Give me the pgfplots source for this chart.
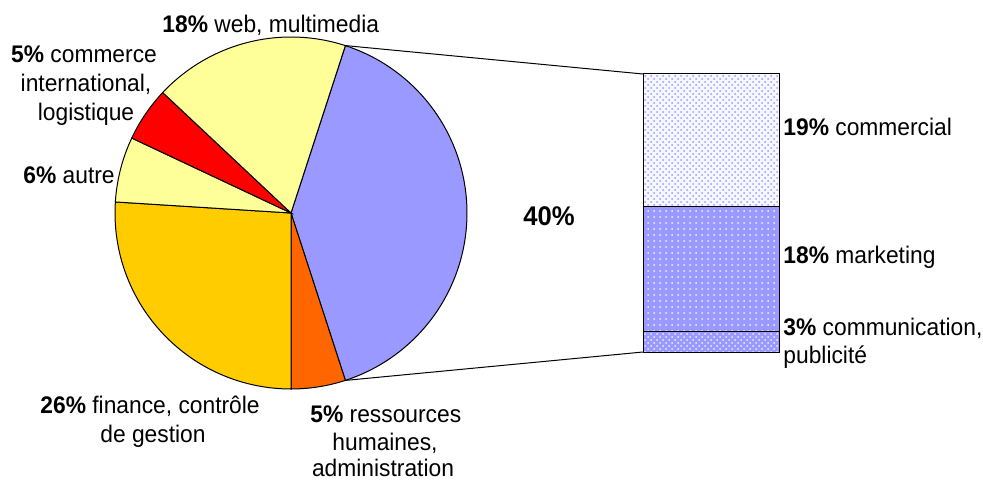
\documentclass[border=0pt]{standalone}
\usepackage{pgfplots}
\pgfplotsset{compat=1.18}
\usepackage{fontspec}
\setmainfont{Liberation Sans}[FakeStretch=0.95]
\usetikzlibrary{patterns}
\definecolor{cblue}{HTML}{9999FF}
\definecolor{cweb}{HTML}{FFFF99}
\definecolor{cautre}{HTML}{FFFF99}
\definecolor{cred}{HTML}{FF0000}
\definecolor{cfin}{HTML}{FFCC00}
\definecolor{crh}{HTML}{FF6600}
% pie: percentages (clockwise from 72 deg, 3.6 deg per percent)
% blue 40, RH 5, finance 26, autre 6, commerce 5, web 18
\newcommand{\slice}[3]{%
  \addplot[fill=#3, draw=black, line width=0.5pt, domain=#1:#2, samples=80, variable=\t]
    ({291+176*cos(\t)},{213-176*sin(\t)}) -- (291,213) -- cycle;}
\begin{document}
\begin{tikzpicture}
\begin{axis}[
  scale only axis, width=491.5pt, height=240.5pt,
  xmin=0, xmax=983, ymin=0, ymax=481, y dir=reverse,
  hide axis, clip=false,
]
\path (0,0) rectangle (983,481);
\slice{-72}{72}{cblue}
\slice{-90}{-72}{crh}
\slice{-183.6}{-90}{cfin}
\slice{-205.2}{-183.6}{cautre}
\slice{-223.2}{-205.2}{cred}
\slice{-288}{-223.2}{cweb}
% connector lines
\addplot[black, line width=0.5pt] coordinates {(345.4,45.6) (643,74)};
\addplot[black, line width=0.5pt] coordinates {(345.4,380.4) (643,352)};
% bar of pie: 19 commercial, 18 marketing, 3 communication (6.95 px per %)
\addplot[fill=white!92!cblue, draw=black, line width=0.5pt, postaction={pattern=crosshatch dots, pattern color=cblue}]
  coordinates {(643,74) (779,74) (779,206.05) (643,206.05)} -- cycle;
\addplot[fill=cblue, draw=black, line width=0.5pt, postaction={pattern=dots, pattern color=white!85!cblue}]
  coordinates {(643,206.05) (779,206.05) (779,331.15) (643,331.15)} -- cycle;
\addplot[fill=cblue, draw=black, line width=0.5pt, postaction={pattern=crosshatch dots, pattern color=white!80!cblue}]
  coordinates {(643,331.15) (779,331.15) (779,352) (643,352)} -- cycle;
% labels
\begin{scope}[every node/.style={inner sep=0pt, font=\fontsize{12}{14.5}\selectfont}]
\node[anchor=base west] at (162,33) {\textbf{18\%} web, multimedia};
\node[anchor=base] at (84,62) {\textbf{5\%} commerce};
\node[anchor=base] at (86,91) {international,};
\node[anchor=base] at (86,120) {logistique};
\node[anchor=base west] at (23,183) {\textbf{6\%} autre};
\node[anchor=base west] at (40,413) {\textbf{26\%} finance, contrôle};
\node[anchor=base] at (153,442) {de gestion};
\node[anchor=base west] at (310,422) {\textbf{5\%} ressources};
\node[anchor=base] at (385,450) {humaines,};
\node[anchor=base] at (383,476) {administration};
\node[anchor=base, font=\fontsize{13.5}{16}\selectfont\bfseries] at (549,225) {40\%};
\node[anchor=base west] at (783,135) {\textbf{19\%} commercial};
\node[anchor=base west] at (783,263) {\textbf{18\%} marketing};
\node[anchor=base west] at (783,335) {\textbf{3\%} communication,};
\node[anchor=base west] at (783,363) {publicité};
\end{scope}
\end{axis}
\end{tikzpicture}
\end{document}
